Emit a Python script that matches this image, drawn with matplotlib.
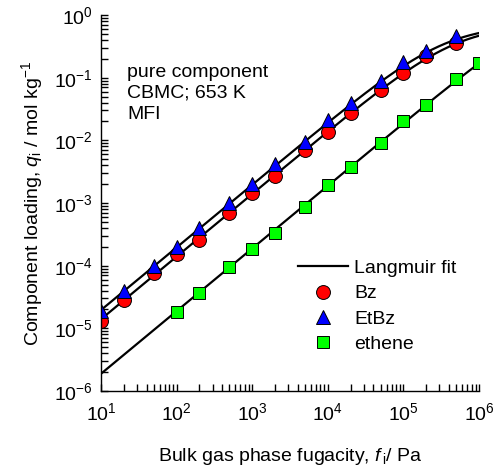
import matplotlib

matplotlib.use("Agg")
import matplotlib.pyplot as plt
import numpy as np
from matplotlib.ticker import LogLocator, NullFormatter

plt.rcParams["font.family"] = ["Liberation Sans", "DejaVu Sans"]
plt.rcParams["mathtext.fontset"] = "custom"
plt.rcParams["mathtext.rm"] = "Liberation Sans"
plt.rcParams["mathtext.it"] = "Liberation Sans:italic"

# fugacities (Pa) of the CBMC points
f_bz = [10, 20, 50, 100, 200, 500, 1e3, 2e3, 5e3, 1e4, 2e4, 5e4, 1e5, 2e5, 5e5]
q_bz = [1.3e-5, 2.8e-5, 7.7e-5, 1.55e-4, 2.6e-4, 6.9e-4, 1.45e-3, 2.7e-3, 7.0e-3,
        1.35e-2, 2.7e-2, 6.3e-2, 0.12, 0.22, 0.36]

f_etbz = [10, 20, 50, 100, 200, 500, 1e3, 2e3, 5e3, 1e4, 2e4, 5e4, 1e5, 2e5, 5e5]
q_etbz = [1.9e-5, 3.9e-5, 1.0e-4, 2.0e-4, 4.0e-4, 1.0e-3, 2.0e-3, 4.2e-3, 9.5e-3,
          2.1e-2, 4.0e-2, 9.0e-2, 0.18, 0.27, 0.47]

f_ethene = [100, 200, 500, 1e3, 2e3, 5e3, 1e4, 2e4, 5e4, 1e5, 2e5, 5e5, 1e6]
q_ethene = [1.8e-5, 3.7e-5, 9.6e-5, 1.85e-4, 3.3e-4, 8.7e-4, 1.95e-3, 3.8e-3,
            9.1e-3, 2.0e-2, 3.6e-2, 9.5e-2, 0.17]

# single-site Langmuir fit parameters: q_sat (mol/kg), b (1/Pa)
qsat_bz, b_bz = 0.70, 2.0e-6
qsat_etbz, b_etbz = 0.70, 2.8e-6
qsat_ethene, b_ethene = 1.6, 1.18e-7


def langmuir(f, qsat, b):
    return qsat * b * f / (1 + b * f)


f_fit = np.logspace(1, 6, 300)

fig = plt.figure(figsize=(4.94, 4.75), dpi=100)
ax = fig.add_axes([0.2045, 0.1768, 0.7651, 0.7916])

ax.plot(f_fit, langmuir(f_fit, qsat_bz, b_bz), color="black", lw=1.6, label="Langmuir fit")
ax.plot(f_fit, langmuir(f_fit, qsat_etbz, b_etbz), color="black", lw=1.6)
ax.plot(f_fit, langmuir(f_fit, qsat_ethene, b_ethene), color="black", lw=1.6)

ax.plot(f_bz, q_bz, "o", ms=10, mfc="#ff0000", mec="black", mew=0.7, ls="none", label="Bz")
ax.plot(f_etbz, q_etbz, "^", ms=10, mfc="#0000ff", mec="black", mew=0.7, ls="none", label="EtBz")
ax.plot(f_ethene, q_ethene, "s", ms=8.5, mfc="#00ff00", mec="black", mew=0.7, ls="none", label="ethene")

ax.set_xscale("log")
ax.set_yscale("log")
ax.set_xlim(10, 1e6)
ax.set_ylim(1e-6, 1)

for s in ["top", "right"]:
    ax.spines[s].set_visible(False)
ax.spines["left"].set_linewidth(1.0)
ax.spines["bottom"].set_linewidth(1.0)

ax.xaxis.set_major_locator(LogLocator(base=10, numticks=10))
ax.yaxis.set_major_locator(LogLocator(base=10, numticks=10))
ax.xaxis.set_minor_locator(LogLocator(base=10, subs=np.arange(2, 10), numticks=20))
ax.yaxis.set_minor_locator(LogLocator(base=10, subs=np.arange(2, 10), numticks=20))
ax.xaxis.set_minor_formatter(NullFormatter())
ax.yaxis.set_minor_formatter(NullFormatter())
ax.tick_params(which="both", direction="in", length=5, width=1.0, labelsize=14)
ax.tick_params(axis="x", which="both", pad=8)
ax.tick_params(axis="y", which="both", pad=6)

ax.set_xlabel(r"Bulk gas phase fugacity, $f_{\,\mathrm{i}}$/ Pa", fontsize=14, labelpad=16)
ax.set_ylabel(r"Component loading, $q_\mathrm{i}$ / mol kg$^{-1}$", fontsize=14, labelpad=6)

ax.text(0.07, 0.87, "pure component\nCBMC; 653 K\nMFI", transform=ax.transAxes,
        fontsize=14, va="top", ha="left", linespacing=1.3)

ax.legend(loc="upper left", bbox_to_anchor=(0.52, 0.35), frameon=False, fontsize=14,
          handlelength=2.6, handletextpad=0.3, labelspacing=0.4, borderpad=0.0,
          borderaxespad=0.0)

fig.savefig("out.png", dpi=100)
